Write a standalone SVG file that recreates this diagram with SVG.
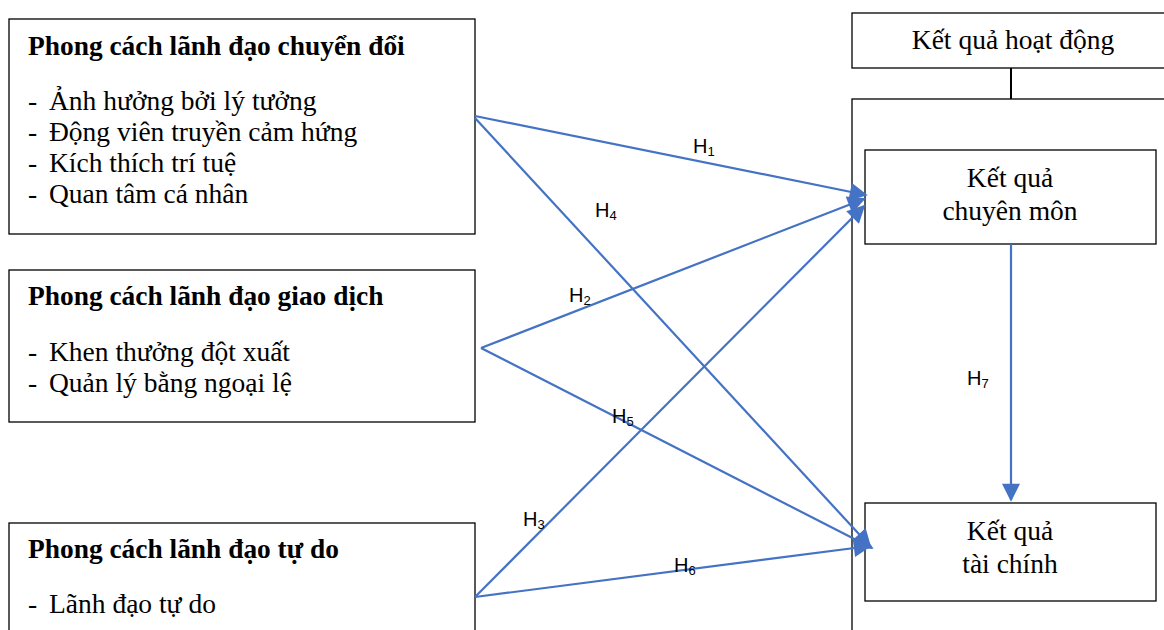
<svg xmlns="http://www.w3.org/2000/svg" width="1164" height="630" viewBox="0 0 1164 630">
<defs>
<style>
.box{fill:#fff;stroke:#000;stroke-width:1.3}
.t{font-family:"Liberation Serif","Times New Roman",serif;font-size:27.5px;fill:#000}
.tb{font-family:"Liberation Serif","Times New Roman",serif;font-size:27.4px;font-weight:bold;fill:#000}
.lbl{font-family:"Liberation Sans",Arial,sans-serif;font-size:20px;fill:#000}
.sub{font-size:13px}
.arr{stroke:#4472C4;stroke-width:2.2;fill:none;marker-end:url(#ah)}
.blk{stroke:#000;stroke-width:2;fill:none}
</style>
<marker id="ah" viewBox="0 0 10 10" refX="9" refY="5" markerWidth="19" markerHeight="18" markerUnits="userSpaceOnUse" orient="auto">
<path d="M0,0 L10,5 L0,10 z" fill="#4472C4"/>
</marker>
</defs>
<rect width="1164" height="630" fill="#fff"/>

<g id="node-chuyendoi">
<rect class="box" x="9" y="19" width="466" height="215"/>
<text class="tb" x="28" y="55">Phong cách lãnh đạo chuyển đổi</text>
<text class="t" x="28" y="110">-</text><text class="t" x="49" y="110">Ảnh hưởng bởi lý tưởng</text>
<text class="t" x="28" y="141">-</text><text class="t" x="49" y="141">Động viên truyền cảm hứng</text>
<text class="t" x="28" y="172">-</text><text class="t" x="49" y="172">Kích thích trí tuệ</text>
<text class="t" x="28" y="203">-</text><text class="t" x="49" y="203">Quan tâm cá nhân</text>
</g>

<g id="node-giaodich">
<rect class="box" x="9" y="270" width="466" height="152"/>
<text class="tb" x="28" y="305">Phong cách lãnh đạo giao dịch</text>
<text class="t" x="28" y="361">-</text><text class="t" x="49" y="361">Khen thưởng đột xuất</text>
<text class="t" x="28" y="392">-</text><text class="t" x="49" y="392">Quản lý bằng ngoại lệ</text>
</g>

<g id="node-tudo">
<rect class="box" x="9" y="523" width="466" height="130"/>
<text class="tb" x="28" y="558">Phong cách lãnh đạo tự do</text>
<text class="t" x="28" y="613">-</text><text class="t" x="49" y="613">Lãnh đạo tự do</text>
</g>

<g id="node-hoatdong">
<rect class="box" x="852" y="13" width="330" height="55"/>
<text class="t" x="1013" y="49" text-anchor="middle">Kết quả hoạt động</text>
</g>

<g id="node-container">
<rect class="box" x="852" y="99" width="330" height="560" style="fill:none"/>
</g>

<g id="node-chuyenmon">
<rect class="box" x="865" y="150" width="291" height="94"/>
<text class="t" x="1010" y="187" text-anchor="middle">Kết quả</text>
<text class="t" x="1010" y="220" text-anchor="middle">chuyên môn</text>
</g>

<g id="node-taichinh">
<rect class="box" x="865" y="503" width="291" height="98"/>
<text class="t" x="1010" y="540" text-anchor="middle">Kết quả</text>
<text class="t" x="1010" y="573" text-anchor="middle">tài chính</text>
</g>

<g id="connectors">
<line class="blk" x1="1011" y1="68" x2="1011" y2="99"/>
<line class="arr" x1="475" y1="116" x2="866" y2="195"/>
<line class="arr" x1="475" y1="118" x2="870" y2="546"/>
<line class="arr" x1="481" y1="348" x2="864" y2="199"/>
<line class="arr" x1="481" y1="348" x2="872" y2="548"/>
<line class="arr" x1="475" y1="597" x2="864" y2="206"/>
<line class="arr" x1="475" y1="597" x2="870" y2="546"/>
<line class="arr" x1="1011" y1="244" x2="1011" y2="500"/>
</g>

<g id="labels">
<text class="lbl" x="693" y="153">H<tspan class="sub" dy="3">1</tspan></text>
<text class="lbl" x="595" y="217">H<tspan class="sub" dy="3">4</tspan></text>
<text class="lbl" x="569" y="302">H<tspan class="sub" dy="3">2</tspan></text>
<text class="lbl" x="612" y="423">H<tspan class="sub" dy="3">5</tspan></text>
<text class="lbl" x="523" y="526">H<tspan class="sub" dy="3">3</tspan></text>
<text class="lbl" x="674" y="572">H<tspan class="sub" dy="3">6</tspan></text>
<text class="lbl" x="967" y="385">H<tspan class="sub" dy="3">7</tspan></text>
</g>
</svg>
